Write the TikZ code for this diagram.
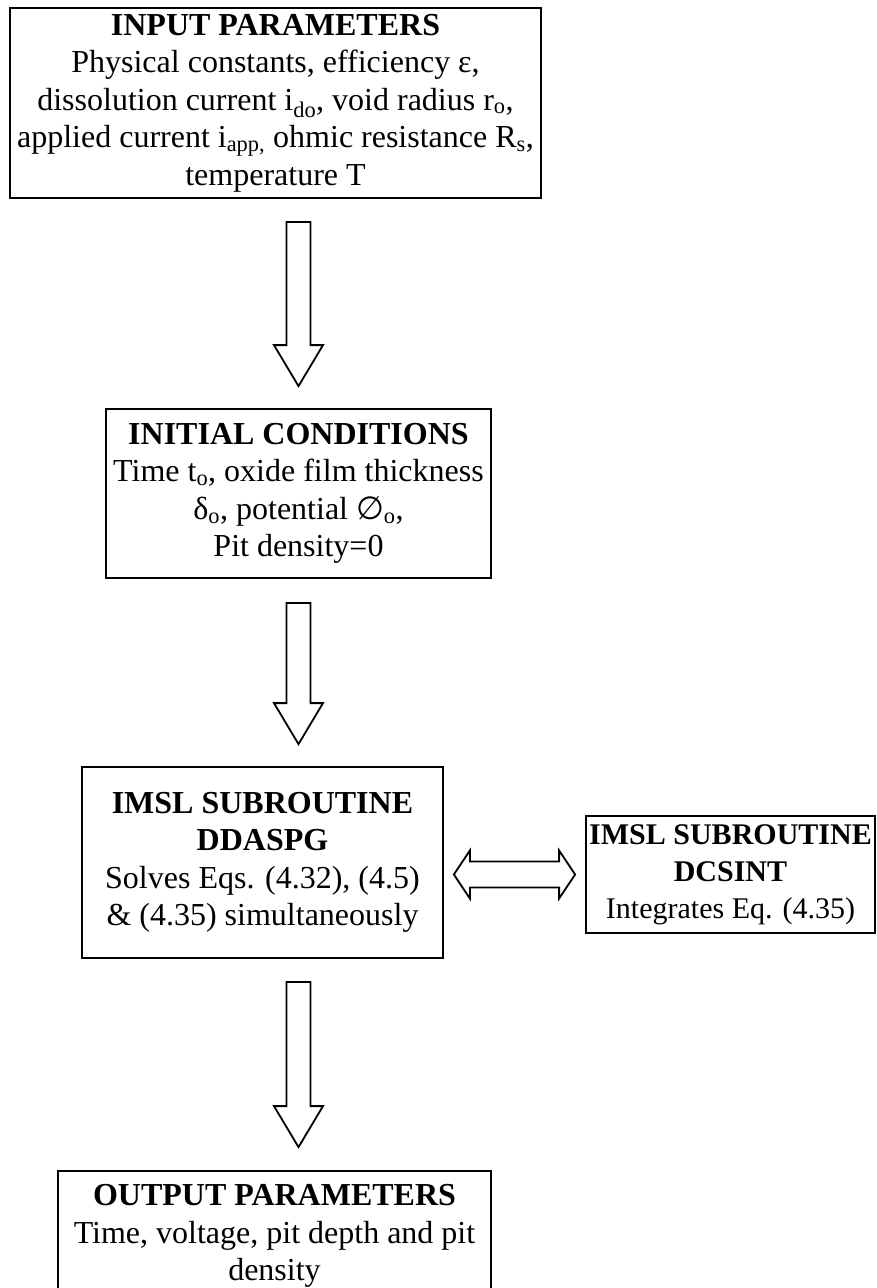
\documentclass[tikz,border=0pt]{standalone}
\usepackage{fontspec}
\setmainfont{Liberation Serif}
\newfontfamily\symfont{DejaVu Sans}
\usetikzlibrary{calc}
\newcommand{\blockarrow}[2]{%
  \draw[blk] ($(#1)+(-12,0)$) -- ($(#2)+(-12,-41)$) -- ($(#2)+(-24.5,-41)$) -- (#2)
    -- ($(#2)+(24.5,-41)$) -- ($(#2)+(12,-41)$) -- ($(#1)+(12,0)$) -- cycle;}

\begin{document}
\begin{tikzpicture}[x=1pt,y=-1pt,font={\fontsize{32}{37.5}\selectfont},
  box/.style={draw,line width=1.8pt,align=center,inner sep=0pt},
  blk/.style={line width=1.8pt,line join=miter}]
\useasboundingbox (0,0) rectangle (877,1288);
\node[box,minimum width=531pt,minimum height=190pt] (in) at (275.5,103)
  {\textbf{INPUT PARAMETERS}\\Physical constants, efficiency ε,\\dissolution current i\textsubscript{do}, void radius r\textsubscript{o},\\applied current i\textsubscript{app,} ohmic resistance R\textsubscript{s},\\temperature T};
\node[box,minimum width=385pt,minimum height=169pt] (init) at (298.5,493.5)
  {\textbf{INITIAL CONDITIONS}\\Time t\textsubscript{o}, oxide film thickness\\δ\textsubscript{o}, potential {\symfont ∅}\textsubscript{o},\\Pit density=0};
\node[box,minimum width=361pt,minimum height=191pt] (ddaspg) at (262.5,862.5)
  {\textbf{IMSL SUBROUTINE}\\\textbf{DDASPG}\\Solves Eqs. (4.32), (4.5)\\\& (4.35) simultaneously};
\node[box,minimum width=289pt,minimum height=117pt,font={\fontsize{30}{37}\selectfont}] (dcsint) at (730.5,874.5)
  {\textbf{IMSL SUBROUTINE}\\\textbf{DCSINT}\\Integrates Eq. (4.35)};
\node[box,minimum width=433pt,minimum height=130pt] (out) at (274.5,1236)
  {\textbf{OUTPUT PARAMETERS}\\Time, voltage, pit depth and pit\\density};

\coordinate (a1s) at ($(init.north |- in.south)+(0,23)$);
\coordinate (a1e) at ($(init.north)+(0,-22)$);
\coordinate (a2s) at ($(init.south)+(0,24)$);
\coordinate (a2e) at ($(init.south |- ddaspg.north)+(0,-22)$);
\coordinate (a3s) at ($(init.south |- ddaspg.south)+(0,23)$);
\coordinate (a3e) at ($(init.south |- out.north)+(0,-23)$);
\blockarrow{a1s}{a1e}
\blockarrow{a2s}{a2e}
\blockarrow{a3s}{a3e}

\coordinate (d1) at ($(ddaspg.east |- dcsint.west)+(10,0)$);
\coordinate (d2) at ($(dcsint.west)+(-10,0)$);
\draw[blk] (d1) -- ($(d1)+(16,-24)$) -- ($(d1)+(16,-13)$) -- ($(d2)+(-16,-13)$) -- ($(d2)+(-16,-24)$)
  -- (d2) -- ($(d2)+(-16,24)$) -- ($(d2)+(-16,13)$) -- ($(d1)+(16,13)$) -- ($(d1)+(16,24)$) -- cycle;
\end{tikzpicture}
\end{document}
